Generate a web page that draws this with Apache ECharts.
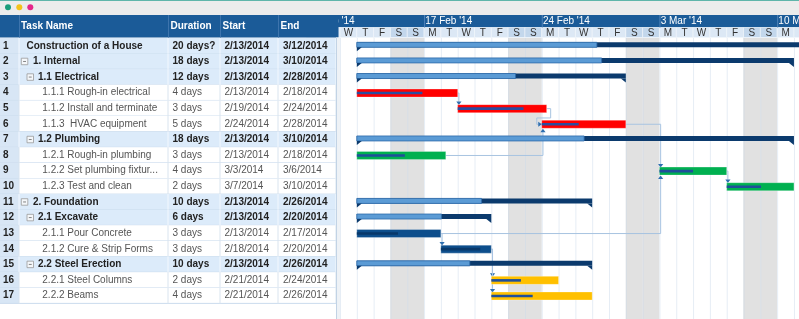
<!DOCTYPE html>
<html><head><meta charset="utf-8">
<script src="https://cdn.jsdelivr.net/npm/echarts@6/dist/echarts.min.js"></script>
<style>html,body{margin:0;padding:0;background:#fff;}#c{width:799px;height:319px;}</style>
</head><body><div id="c"></div>
<script>
// ---------------- data ----------------
const taskIds = [1,2,3,4,5,6,7,8,9,10,11,12,13,14,15,16,17];
const taskNames = ['Construction of a House','1. Internal','1.1 Electrical','1.1.1 Rough-in electrical','1.1.2 Install and terminate','1.1.3  HVAC equipment','1.2 Plumbing','1.2.1 Rough-in plumbing','1.2.2 Set plumbing fixtur...','1.2.3 Test and clean','2. Foundation','2.1 Excavate','2.1.1 Pour Concrete','2.1.2 Cure & Strip Forms','2.2 Steel Erection','2.2.1 Steel Columns','2.2.2 Beams'];
const levels = [0,1,2,3,3,3,2,3,3,3,1,2,3,3,2,3,3];
const durations = ['20 days?','18 days','12 days','4 days','3 days','5 days','18 days','3 days','4 days','2 days','10 days','6 days','3 days','3 days','10 days','2 days','4 days'];
const startTexts = ['2/13/2014','2/13/2014','2/13/2014','2/13/2014','2/19/2014','2/24/2014','2/13/2014','2/13/2014','3/3/2014','3/7/2014','2/13/2014','2/13/2014','2/13/2014','2/18/2014','2/13/2014','2/21/2014','2/21/2014'];
const endTexts = ['3/12/2014','3/10/2014','2/28/2014','2/18/2014','2/24/2014','2/28/2014','3/10/2014','2/18/2014','3/6/2014','3/10/2014','2/26/2014','2/20/2014','2/17/2014','2/20/2014','2/26/2014','2/24/2014','2/26/2014'];
// bar spans as drawn (start inclusive, finish exclusive)
const barFrom = ['2014-02-13','2014-02-13','2014-02-13','2014-02-13','2014-02-19','2014-02-24','2014-02-13','2014-02-13','2014-03-03','2014-03-07','2014-02-13','2014-02-13','2014-02-13','2014-02-18','2014-02-13','2014-02-21','2014-02-21'];
const barTo = ['2014-03-13','2014-03-11','2014-03-01','2014-02-19','2014-02-24T07:00','2014-03-01','2014-03-11','2014-02-18T07:00','2014-03-07','2014-03-11','2014-02-27','2014-02-21','2014-02-18','2014-02-21','2014-02-27','2014-02-25','2014-02-27'];
const progress = [51,56,59,65,74,44,52,54,50,51,53,63,49,78,48,44,41];
const barGroup = ['sum','sum','sum','elec','elec','elec','sum','plumb','plumb','plumb','sum','sum','found','found','sum','steel','steel'];
const deps = [[4,5],[5,6],[8,6],[6,9],[13,9],[9,10],[13,14],[14,16],[14,17]];
const headerCols = ['', 'Task Name', 'Duration', 'Start', 'End'];
const dayLetters = ['S','M','T','W','T','F','S'];
const monthNames = ['Jan','Feb','Mar','Apr','May','Jun','Jul','Aug','Sep','Oct','Nov','Dec'];

// ---------------- layout / style ----------------
const FONT = '"Liberation Sans", Arial, Helvetica, sans-serif';
const TOP = 38, ROW_H = 16.3, NROWS = 18;
const TABLE_W = 336, GANTT_L = 340, GANTT_W = 459, DAY_MAX = 27.3;
const colEdges = [0, 19, 168, 220, 278, 336];
const nameX = [26.5, 33, 38, 42.3];
const iconX = [0, 21.3, 27, 0];
const HA = 15, HB = 27.5, HE = 37.5;
const barColor = {elec:'#ff0000', plumb:'#00b050', found:'#0d4e8c', steel:'#ffc000'};
const progColor = {elec:'#2c4c9e', plumb:'#1f4f9a', found:'#08386a', steel:'#1f4f9a'};

function dayNum(s) {
  const m = s.match(/(\d+)-(\d+)-(\d+)(?:T(\d+):(\d+))?/);
  return (Date.UTC(+m[1], m[2]-1, +m[3], +(m[4]||0), +(m[5]||0)) - Date.UTC(2014,1,12)) / 86400000;
}
const calDays = [];
for (let d = -2; d <= 28; d++) {
  const dt = new Date(Date.UTC(2014, 1, 12 + d));
  const wd = dt.getUTCDay();
  calDays.push({n:d, letter:dayLetters[wd], weekend: wd===0||wd===6, monday: wd===1,
    label: dt.getUTCDate() + ' ' + monthNames[dt.getUTCMonth()] + " '14"});
}
function txt(t, x, y, opt) {
  opt = opt || {};
  return {type:'text', style:{text:t, x:x, y:y, fill:opt.fill||'#333',
    font:(opt.bold?'bold ':'') + (opt.size||10) + 'px ' + FONT,
    textAlign:opt.align||'left', align:opt.align||'left', textVerticalAlign:'middle', verticalAlign:'middle'}};
}

// ---------------- render functions ----------------
function renderRow(params, api) {
  const i = params.dataIndex;
  const yc = api.coord([0, i])[1];
  const h = api.size([0, 1])[1];
  const top = yc - h/2;
  const X = v => api.coord([v, i])[0];
  const summary = levels[i] < 3;
  const ch = [];
  ch.push({type:'rect', shape:{x:X(0), y:top, width:X(19)-X(0), height:h}, style:{fill:'#d8e6f5'}});
  ch.push({type:'rect', shape:{x:X(19), y:top, width:X(336)-X(19), height:h}, style:{fill: summary ? '#dcebfa' : '#ffffff'}});
  ch.push({type:'line', shape:{x1:X(0), y1:top+h, x2:X(336), y2:top+h}, style:{stroke:'#cadbed', lineWidth:1}});
  [19,168,220,278,336].forEach(e => ch.push({type:'line', shape:{x1:X(e), y1:top, x2:X(e), y2:top+h}, style:{stroke: summary ? '#f3f8fe' : '#d9e4ef', lineWidth:1}}));
  ch.push(txt(String(taskIds[i]), X(3), yc, {bold:true, fill:'#222'}));
  const lv = levels[i];
  if (lv === 1 || lv === 2) {
    const ix = iconX[lv];
    ch.push({type:'rect', shape:{x:ix, y:yc-3.2, width:6.5, height:6.5}, style:{fill:'#f4f7fa', stroke:'#9a9a9a', lineWidth:0.8}});
    ch.push({type:'line', shape:{x1:ix+1.8, y1:yc+0.05, x2:ix+4.7, y2:yc+0.05}, style:{stroke:'#777', lineWidth:0.9}});
  }
  const o = summary ? {bold:true, fill:'#222'} : {fill:'#555'};
  ch.push(txt(taskNames[i], X(nameX[lv]), yc, o));
  ch.push(txt(durations[i], X(colEdges[2] + 4.5), yc, o));
  ch.push(txt(startTexts[i], X(colEdges[3] + 4.5), yc, o));
  ch.push(txt(endTexts[i], X(colEdges[4] + 5), yc, o));
  return {type:'group', children:ch};
}

function renderCal(params, api) {
  const d = calDays[params.dataIndex];
  const cs = params.coordSys;
  const x0 = api.coord([d.n, 0])[0], x1 = api.coord([d.n + 1, 0])[0];
  const ch = [];
  if (d.weekend) ch.push({type:'rect', shape:{x:x0, y:cs.y, width:x1-x0, height:cs.height}, style:{fill:'#e1e1e1'}});
  ch.push({type:'line', shape:{x1:x0+0.5, y1:cs.y, x2:x0+0.5, y2:cs.y+cs.height}, style:{stroke: d.weekend ? '#d6dde5' : '#e6edf5', lineWidth:1}});
  return {type:'group', children:ch};
}

function renderHead(params, api) {
  const d = calDays[params.dataIndex];
  const x0 = api.coord([d.n, 0])[0], x1 = api.coord([d.n + 1, 0])[0];
  const ch = [
    {type:'rect', shape:{x:x0, y:HB, width:x1-x0, height:HE-HB}, style:{fill: d.weekend ? '#c3d7ec' : '#dce8f5', stroke:'#f2f7fc', lineWidth:0.6}},
    txt(d.letter, (x0+x1)/2, (HB+HE)/2 + 0.3, {align:'center', fill:'#333'})
  ];
  if (d.monday) {
    ch.push({type:'line', shape:{x1:x0+0.5, y1:HA, x2:x0+0.5, y2:HB}, style:{stroke:'#4f82b9', lineWidth:1}});
    ch.push(txt(d.label, x0 + 1.2, (HA+HB)/2 + 0.3, {fill:'#ffffff'}));
  }
  return {type:'group', children:ch};
}

function renderBar(params, api) {
  const i = params.dataIndex;
  const p0 = api.coord([dayNum(barFrom[i]), i]);
  const p1 = api.coord([dayNum(barTo[i]), i]);
  const h = api.size([0, 1])[1];
  const yc = p0[1], top = yc - h/2;
  const x0 = p0[0], x1 = p1[0];
  const xp = x0 + (x1 - x0) * progress[i] / 100;
  const ch = [];
  if (levels[i] < 3) {
    const by = top + 4.3, bh = 5, bb = by + bh;
    ch.push({type:'rect', shape:{x:x0, y:by, width:x1-x0, height:bh}, style:{fill:'#0b3a6d'}});
    ch.push({type:'rect', shape:{x:x0, y:by, width:xp-x0, height:bh}, style:{fill:'#5b9bd5', stroke:'#2d6bab', lineWidth:0.8}});
    ch.push({type:'polygon', shape:{points:[[x0,bb],[x0+5,bb],[x0,bb+4]]}, style:{fill:'#0b3a6d'}});
    ch.push({type:'polygon', shape:{points:[[x1,bb],[x1-5,bb],[x1,bb+4]]}, style:{fill:'#0b3a6d'}});
  } else {
    const g = barGroup[i];
    ch.push({type:'rect', shape:{x:x0, y:yc-3.6, width:x1-x0, height:8}, style:{fill:barColor[g], stroke:'rgba(255,255,255,0.35)', lineWidth:0.8}});
    ch.push({type:'rect', shape:{x:x0, y:yc-0.9, width:xp-x0, height:2.6}, style:{fill:progColor[g]}});
  }
  return {type:'group', children:ch};
}

function renderDep(params, api) {
  const a = taskIds.indexOf(deps[params.dataIndex][0]);
  const b = taskIds.indexOf(deps[params.dataIndex][1]);
  const s = api.coord([dayNum(barTo[a]), a]);
  const t = api.coord([dayNum(barFrom[b]), b]);
  const h = api.size([0, 1])[1];
  const sx = s[0], sy = s[1] + 0.4, tx = t[0], ty = t[1] + 0.4;
  let pts, arrow;
  if (tx >= sx - 1) {
    const vx = tx + 1.2;
    if (ty > sy) {
      const ey = ty - 3.6 - 3.5;
      pts = [[sx, sy], [vx, sy], [vx, ey]];
      arrow = [[vx-2.6, ey], [vx+2.6, ey], [vx, ey+3.5]];
    } else {
      const ey = ty + 4.4 + 3.5;
      pts = [[sx, sy], [vx, sy], [vx, ey]];
      arrow = [[vx-2.6, ey], [vx+2.6, ey], [vx, ey-3.5]];
    }
  } else {
    const my = ty - h/2 + 1.5;
    pts = [[sx, sy], [sx+4, sy], [sx+4, my], [tx-5, my], [tx-5, ty], [tx-3.5, ty]];
    arrow = [[tx-3.5, ty-2.6], [tx-3.5, ty+2.6], [tx, ty]];
  }
  return {type:'group', children:[
    {type:'polyline', shape:{points:pts}, style:{stroke:'#a8c4e1', lineWidth:1, fill:null}},
    {type:'polygon', shape:{points:arrow}, style:{fill:'#2e6fb0'}}
  ]};
}

// ---------------- chart ----------------
const rowCats = [];
for (let i = 0; i < NROWS; i++) rowCats.push(String(i + 1));
const chart = echarts.init(document.getElementById('c'), null, {renderer:'canvas'});
const graphics = [
  {type:'rect', z:0, shape:{x:TABLE_W, y:HA, width:799-TABLE_W, height:HB-HA}, style:{fill:'#1b5b98'}},
  {type:'rect', z:20, shape:{x:0, y:0, width:799, height:HA}, style:{fill:'#ececec'}},
  {type:'rect', z:20, shape:{x:0, y:0, width:799, height:1}, style:{fill:'#5fb5aa'}},
  {type:'circle', z:21, shape:{cx:8, cy:7.3, r:3}, style:{fill:'#1a9d7b'}},
  {type:'circle', z:21, shape:{cx:19.3, cy:7.3, r:3}, style:{fill:'#f4c21a'}},
  {type:'circle', z:21, shape:{cx:30.3, cy:7.3, r:3}, style:{fill:'#e5268b'}},
  {type:'rect', z:20, shape:{x:0, y:HA, width:GANTT_L-1.5, height:HE-HA}, style:{fill:'#1b5b98'}},
  {type:'rect', z:20, shape:{x:TABLE_W, y:HE, width:GANTT_L-TABLE_W, height:319-HE}, style:{fill:'#eef2f6'}},
  {type:'line', z:21, shape:{x1:TABLE_W+0.5, y1:HE, x2:TABLE_W+0.5, y2:319}, style:{stroke:'#c2d3e5', lineWidth:1}}
];
[1,2,3,4].forEach(k => {
  graphics.push({type:'line', z:21, shape:{x1:colEdges[k]+0.5, y1:HA, x2:colEdges[k]+0.5, y2:HE}, style:{stroke:'#3d74ad', lineWidth:1}});
  graphics.push({type:'text', z:22, style:{text:headerCols[k], x:colEdges[k] + (k===1?2:2.5), y:(HA+HE)/2 + 0.3, fill:'#ffffff',
    font:'bold 10px ' + FONT, textAlign:'left', align:'left', textVerticalAlign:'middle', verticalAlign:'middle'}});
});

chart.setOption({
  animation: false,
  backgroundColor: '#ffffff',
  grid: [
    {left:0, top:TOP, width:TABLE_W, height:ROW_H*NROWS},
    {left:GANTT_L, top:TOP, width:GANTT_W, height:ROW_H*NROWS}
  ],
  xAxis: [
    {type:'value', gridIndex:0, min:0, max:TABLE_W, show:false},
    {type:'value', gridIndex:1, min:0, max:DAY_MAX, interval:1, show:false}
  ],
  yAxis: [
    {type:'category', gridIndex:0, data:rowCats, inverse:true, show:false},
    {type:'category', gridIndex:1, data:rowCats, inverse:true, show:false}
  ],
  graphic: graphics,
  series: [
    {type:'custom', xAxisIndex:0, yAxisIndex:0, z:2, clip:false, renderItem:renderRow,
      data: taskIds.map((id, i) => [0, i])},
    {type:'custom', xAxisIndex:1, yAxisIndex:1, z:1, clip:true, renderItem:renderCal,
      data: calDays.map(d => [d.n, 0])},
    {type:'custom', xAxisIndex:1, yAxisIndex:1, z:3, clip:false, renderItem:renderHead,
      data: calDays.map(d => [d.n, 0])},
    {type:'custom', xAxisIndex:1, yAxisIndex:1, z:4, clip:true, renderItem:renderDep,
      data: deps.map((d, i) => [0, i])},
    {type:'custom', xAxisIndex:1, yAxisIndex:1, z:5, clip:true, renderItem:renderBar,
      data: taskIds.map((id, i) => [dayNum(barFrom[i]), i])}
  ]
});
</script>
</body></html>
